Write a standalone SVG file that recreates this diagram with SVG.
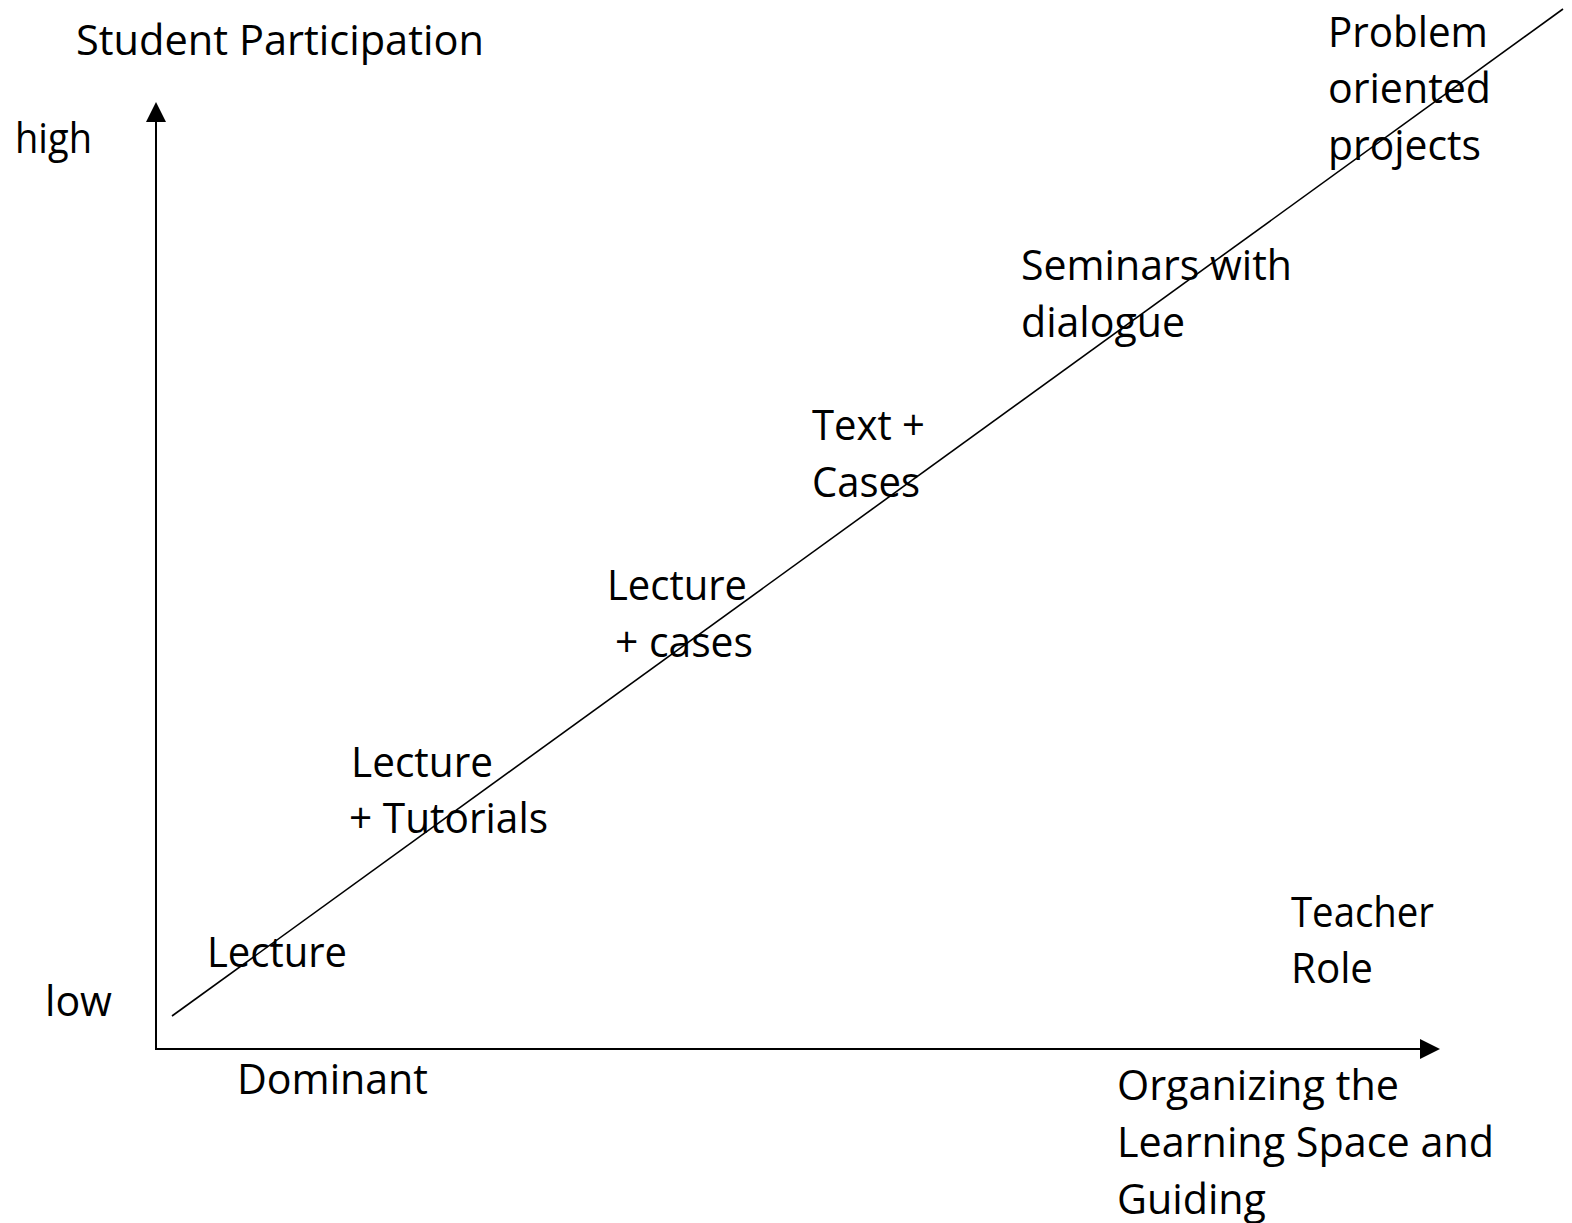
<svg xmlns="http://www.w3.org/2000/svg" width="1572" height="1223" viewBox="0 0 1572 1223">
<defs>
<marker id="arr" markerUnits="userSpaceOnUse" markerWidth="20" markerHeight="20" refX="0" refY="8" orient="auto" viewBox="0 0 16 16">
<path d="M0,0 L16,8 L0,16 z" fill="#000"/>
</marker>
<style>
text{font-family:"Open Sans","Liberation Sans",sans-serif;font-size:42px;fill:#000}
.ax{stroke:#000;stroke-width:2;fill:none}
.diag{stroke:#000;stroke-width:1.6;fill:none}
</style>
</defs>
<rect width="1572" height="1223" fill="#fff"/>
<g id="connectors">
<line class="ax" x1="156" y1="1049" x2="156" y2="122" marker-end="url(#arr)"/>
<line class="ax" x1="155" y1="1049" x2="1420" y2="1049" marker-end="url(#arr)"/>
<line class="diag" x1="172" y1="1016" x2="1563" y2="9"/>
</g>
<g id="axis-y-title"><text x="76" y="55" textLength="408" lengthAdjust="spacingAndGlyphs">Student Participation</text></g>
<g id="label-high"><text x="15" y="153" textLength="77" lengthAdjust="spacingAndGlyphs">high</text></g>
<g id="label-low"><text x="45" y="1016" textLength="67" lengthAdjust="spacingAndGlyphs">low</text></g>
<g id="node-lecture"><text x="207" y="967" textLength="140" lengthAdjust="spacingAndGlyphs">Lecture</text></g>
<g id="node-lecture-tutorials">
<text x="351" y="777" textLength="142" lengthAdjust="spacingAndGlyphs">Lecture</text>
<text x="349" y="833" textLength="199" lengthAdjust="spacingAndGlyphs">+ Tutorials</text>
</g>
<g id="node-lecture-cases">
<text x="607" y="600" textLength="140" lengthAdjust="spacingAndGlyphs">Lecture</text>
<text x="615" y="657" textLength="138" lengthAdjust="spacingAndGlyphs">+ cases</text>
</g>
<g id="node-text-cases">
<text x="812" y="440" textLength="113" lengthAdjust="spacingAndGlyphs">Text +</text>
<text x="812" y="497" textLength="108" lengthAdjust="spacingAndGlyphs">Cases</text>
</g>
<g id="node-seminars">
<text x="1021" y="280" textLength="271" lengthAdjust="spacingAndGlyphs">Seminars with</text>
<text x="1021" y="337" textLength="164" lengthAdjust="spacingAndGlyphs">dialogue</text>
</g>
<g id="node-problem">
<text x="1328" y="47" textLength="160" lengthAdjust="spacingAndGlyphs">Problem</text>
<text x="1328" y="103" textLength="163" lengthAdjust="spacingAndGlyphs">oriented</text>
<text x="1328" y="160" textLength="153" lengthAdjust="spacingAndGlyphs">projects</text>
</g>
<g id="axis-x-title">
<text x="1291" y="927" textLength="143" lengthAdjust="spacingAndGlyphs">Teacher</text>
<text x="1291" y="983" textLength="82" lengthAdjust="spacingAndGlyphs">Role</text>
</g>
<g id="label-dominant"><text x="237" y="1094" textLength="191" lengthAdjust="spacingAndGlyphs">Dominant</text></g>
<g id="label-organizing">
<text x="1117" y="1100" textLength="282" lengthAdjust="spacingAndGlyphs">Organizing the</text>
<text x="1117" y="1157" textLength="377" lengthAdjust="spacingAndGlyphs">Learning Space and</text>
<text x="1117" y="1214" textLength="149" lengthAdjust="spacingAndGlyphs">Guiding</text>
</g>
</svg>
